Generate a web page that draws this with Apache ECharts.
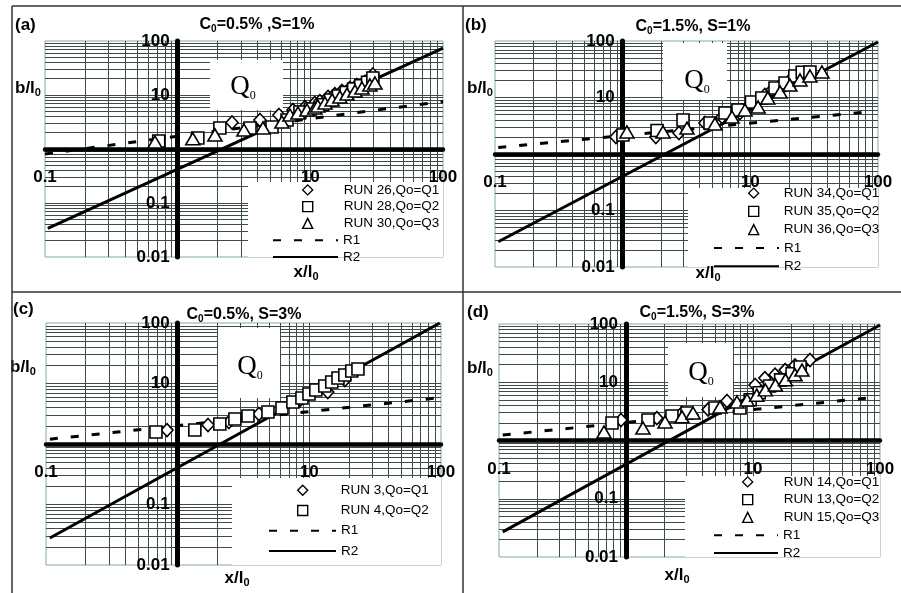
<!DOCTYPE html>
<html><head><meta charset="utf-8">
<script src="https://cdn.jsdelivr.net/npm/echarts@6/dist/echarts.min.js"></script>
<style>html,body{margin:0;padding:0;background:#fff}#c{width:901px;height:593px}</style>
</head><body><div id="c"></div><script>
// ---------- data ----------
const xGridValues = [0.2,0.3,0.4,0.5,0.6,0.7,0.8,0.9,1,2,3,4,5,6,7,8,9,10,20,30,40,50,60,70,80,90];
const yGridValues = [0.02,0.03,0.04,0.05,0.06,0.07,0.08,0.09,0.1,0.2,0.3,0.4,0.5,0.6,0.7,0.8,0.9,1,2,3,4,5,6,7,8,9,10,20,30,40,50,60,70,80,90];
const xTickLabels = [0.1, 10, 100];
const yTickLabels = [0.01, 0.1, 10, 100];

const panelTags = ['(a)', '(b)', '(c)', '(d)'];
const panelTitles = ['C{s|0}=0.5% ,S=1%', 'C{s|0}=1.5%, S=1%', 'C{s|0}=0.5%, S=3%', 'C{s|0}=1.5%, S=3%'];
const runNamesA = ['RUN 26,Qo=Q1', 'RUN 28,Qo=Q2', 'RUN 30,Qo=Q3'];
const runNamesB = ['RUN 34,Qo=Q1', 'RUN 35,Qo=Q2', 'RUN 36,Qo=Q3'];
const runNamesC = ['RUN 3,Qo=Q1', 'RUN 4,Qo=Q2'];
const runNamesD = ['RUN 14,Qo=Q1', 'RUN 13,Qo=Q2', 'RUN 15,Qo=Q3'];

// panel (a)
const a_run26 = [[2.57,3.1],[4.17,3.44],[5.8,4.26],[7.4,5.27],[9.11,6.0],[10.8,7.1],[11.8,7.7],[13.6,9.2],[15.3,10.4],[17.3,11.9],[19.9,13.5],[22.4,15.3],[25.8,17.4],[28.1,20.6],[29.6,24]];
const a_run28 = [[0.72,1.41],[1.42,1.6],[2.08,2.45],[3.51,2.45],[5.14,2.55],[6.67,3.44],[8.35,4.84],[10.0,5.5],[12.4,6.6],[14.2,8.1],[16.3,9.6],[18.6,11.2],[21.2,12.9],[24.0,14.8],[27.0,17.2],[29.6,20.6]];
const a_run30 = [[0.675,1.35],[1.3,1.55],[1.91,1.82],[3.16,2.25],[4.4,2.45],[6.11,3.16],[7.02,4.26],[8.07,4.64],[9.43,5.27],[10.8,5.74],[11.4,6.26],[12.9,7.1],[14.6,8.1],[16.7,9.2],[18.9,10.4],[21.7,11.9],[24.5,13.5],[28.1,15.3],[30.7,16.7]];
const a_R1 = [[0.1,0.81],[1,1.72],[10,3.64],[100,7.6]];
const a_R2 = [[0.105,0.034],[100,74]];
// panel (b)
const b_run34 = [[0.886,2.0],[1.82,2.0],[2.76,2.35],[4.41,3.54],[6.0,4.52],[8.29,5.32],[10.3,8.0],[13.0,11.1],[14.8,13.6],[17.5,16.8],[20.5,20.5],[23.5,24.5],[26.5,27.5]];
const b_run35 = [[1.005,2.17],[1.86,2.6],[2.97,4.0],[4.83,3.54],[6.33,5.32],[8.0,6.0],[10.2,8.33],[12.3,9.8],[15.6,14.7],[18.7,18.1],[22.3,24.0],[25.5,28.0],[29.3,28.3]];
const b_run36 = [[1.08,2.45],[2.07,2.45],[3.19,2.88],[5.28,3.4],[7.18,4.52],[9.08,6.0],[11.5,6.79],[13.7,9.8],[17.1,12.5],[20.4,16.6],[24.5,20.4],[29.3,24.0],[36.4,28.3]];
const b_R1 = [[0.106,1.3],[79,5.5]];
const b_R2 = [[0.106,0.028],[100,96]];
// panel (c)
const c_run3 = [[0.83,1.7],[1.7,2.06],[2.45,2.3],[4.14,3.13],[8.49,5.34],[13.8,7.24],[18.6,11.4]];
const c_run4 = [[0.684,1.58],[1.35,1.7],[2.09,2.14],[2.72,2.59],[3.42,2.9],[4.85,3.38],[6.2,3.94],[7.5,4.94],[8.79,5.76],[9.94,6.7],[11.2,7.81],[13.1,9.09],[14.8,10.6],[16.5,12.3],[18.6,13.8],[21.0,16.1],[23.4,17.4]];
const c_R1 = [[0.107,1.2],[96,5.8]];
const c_R2 = [[0.107,0.028],[98,100]];
// panel (d)
const d_run14 = [[0.914,2.25],[1.75,2.43],[2.76,2.97],[4.43,3.4],[6.24,4.77],[10.4,8.97],[12.4,11.8],[14.9,13.5],[17.9,16.2],[21.4,19.5],[28.1,24.1]];
const d_run13 = [[0.776,2.0],[1.49,2.25],[2.3,2.63],[3.02,2.97],[5.02,3.61],[7.9,3.61],[9.5,5.0],[11.2,6.6],[13.5,8.6],[16.5,11.0],[20.3,14.0],[23.5,18.3]];
const d_run15 = [[0.671,1.4],[1.36,1.64],[2.03,2.08],[2.76,2.55],[3.37,2.97],[5.5,3.76],[7.48,4.58],[8.98,4.96],[10.7,6.0],[12.5,7.4],[15.0,9.0],[18.0,11.0],[21.4,13.5],[24.3,16.2]];
const d_R1 = [[0.107,1.24],[82,5.4]];
const d_R2 = [[0.107,0.027],[100,96]];

const runNames = [runNamesA, runNamesB, runNamesC, runNamesD];
const runData = [[a_run26,a_run28,a_run30],[b_run34,b_run35,b_run36],[c_run3,c_run4],[d_run14,d_run13,d_run15]];
const r1Data = [a_R1, b_R1, c_R1, d_R1];
const r2Data = [a_R2, b_R2, c_R2, d_R2];

// ---------- layout ----------
// leg: [lineStartX, top, lineWidth, rowHeight, symbolCenterX, textX]
const LAYOUT = [
 {grid:[45,41,398,216], tag:[15,25], title:[257,25], ylab:[15,88], xlab:[306,272], qbox:[210,60,73,50], q:[243,87], lbox:[248,182,195,75], leg:[272,181.5,65,16.75,307,343]},
 {grid:[495,41,383,226], tag:[465,25], title:[693,27], ylab:[467,88], xlab:[708,273], qbox:[663,43,64,57], q:[697,81], lbox:[688,188,190,79], leg:[713,184,65,18.25,753,783]},
 {grid:[46,323,395,242], tag:[13,309], title:[244,315], ylab:[10,367], xlab:[237,578], qbox:[218,328,62,70], q:[250,367], lbox:[232,478,209,87], leg:[268,480,67,20.3,302,340]},
 {grid:[499,324,381,233], tag:[467,312], title:[697,313], ylab:[467,368], xlab:[677,575], qbox:[668,343,65,54], q:[701,373], lbox:[685,476,195,81], leg:[713,473,64,17.75,747,783]}
];
const FONT = '"Liberation Sans", Arial, sans-serif';
const SERIF = '"Liberation Serif", "Times New Roman", serif';
const SYMBOLS = ['diamond', 'rect', 'triangle'];
const SIZES = [[12, 13], 12, [14, 12]];
const GRIDC = '#3f4a4a';

const grids = [], xAxes = [], yAxes = [], series = [], legends = [], elems = [];
const subRich = (fs) => ({ s: { fontSize: fs, fontWeight: 'bold', fontFamily: FONT, fill: '#000', lineHeight: fs, verticalAlign: 'bottom' } });

LAYOUT.forEach((P, i) => {
  const [gx, gy, gw, gh] = P.grid;
  grids.push({ left: gx, top: gy, width: gw, height: gh, containLabel: false, outerBoundsMode: 'none',
    show: true, borderColor: '#86a8a8', borderWidth: 1, backgroundColor: 'transparent' });
  xAxes.push({ gridIndex: i, type: 'log', logBase: 10, min: 0.1, max: 100, position: 'bottom', offset: -gh / 2,
    axisLine: { show: true, onZero: false, lineStyle: { color: '#000', width: 4.5 } },
    axisTick: { show: false, customValues: xGridValues },
    splitLine: { show: true, lineStyle: { color: GRIDC, width: 1 } },
    minorTick: { show: false }, minorSplitLine: { show: false },
    axisLabel: { show: true, customValues: xTickLabels, margin: 20, color: '#000', fontSize: 17, fontWeight: 'bold', fontFamily: FONT,
      formatter: v => (v === 1 ? '' : String(+v.toPrecision(6))) } });
  yAxes.push({ gridIndex: i, type: 'log', logBase: 10, min: 0.01, max: 100, position: 'left', offset: -gw / 3,
    axisLine: { show: true, onZero: false, lineStyle: { color: '#000', width: 5 } },
    axisTick: { show: false, customValues: yGridValues },
    splitLine: { show: true, lineStyle: { color: GRIDC, width: 1 } },
    minorTick: { show: false }, minorSplitLine: { show: false },
    axisLabel: { show: true, customValues: yTickLabels, margin: 8, color: '#000', fontSize: 17, fontWeight: 'bold', fontFamily: FONT,
      formatter: v => (v === 1 ? '' : String(+v.toPrecision(6))) } });

  series.push({ name: 'R1', type: 'line', xAxisIndex: i, yAxisIndex: i, data: r1Data[i], symbol: 'none', showSymbol: false,
    lineStyle: { color: '#000', width: 3, type: [8, 13] }, itemStyle: { color: '#000' }, z: 2, silent: true });
  series.push({ name: 'R2', type: 'line', xAxisIndex: i, yAxisIndex: i, data: r2Data[i], symbol: 'none', showSymbol: false,
    lineStyle: { color: '#000', width: 3 }, itemStyle: { color: '#000' }, z: 2, silent: true });
  runData[i].forEach((d, k) => {
    series.push({ name: runNames[i][k], type: 'scatter', xAxisIndex: i, yAxisIndex: i, data: d,
      symbol: SYMBOLS[k], symbolSize: SIZES[k],
      itemStyle: { color: '#fff', borderColor: '#000', borderWidth: 1.6, opacity: 1 }, z: 3, silent: true });
  });

  const [lx, ly, lw, lh, sx, tx] = P.leg;
  const nRuns = runNames[i].length;
  // scatter legend (square icon box)
  legends.push({ data: runNames[i], orient: 'vertical', left: sx - 5, top: ly, padding: 0,
    itemWidth: 10, itemHeight: 10, itemGap: 0, selectedMode: false, z: 6,
    itemStyle: { borderWidth: 1.4 },
    textStyle: { fontSize: 13.5, fontFamily: FONT, color: '#000', lineHeight: lh, padding: [0, 0, 0, tx - (sx + 10)] } });
  // line legend
  legends.push({ data: [{ name: 'R1', itemStyle: { opacity: 0 } }, { name: 'R2', itemStyle: { opacity: 0 } }],
    orient: 'vertical', left: lx, top: ly + nRuns * lh, padding: 0,
    itemWidth: lw, itemHeight: 10, itemGap: 0, selectedMode: false, z: 6,
    textStyle: { fontSize: 13.5, fontFamily: FONT, color: '#000', lineHeight: lh } });

  // white boxes
  const qb = P.qbox, lb = P.lbox;
  elems.push({ type: 'rect', shape: { x: qb[0], y: qb[1], width: qb[2], height: qb[3] }, style: { fill: '#fff' }, z: 1, silent: true });
  elems.push({ type: 'rect', shape: { x: lb[0], y: lb[1], width: lb[2], height: lb[3] }, style: { fill: '#fff' }, z: 1, silent: true });
  // texts
  elems.push({ type: 'text', x: P.q[0], y: P.q[1], z: 10, silent: true, style: { text: '{q|Q}{s|0}', align: 'center', verticalAlign: 'middle',
    rich: { q: { fontSize: 27, fontFamily: SERIF, fill: '#000', lineHeight: 30 }, s: { fontSize: 12, fontFamily: SERIF, fill: '#000', lineHeight: 12, verticalAlign: 'bottom' } } } });
  elems.push({ type: 'text', x: P.tag[0], y: P.tag[1], z: 10, silent: true, style: { text: panelTags[i], fontSize: 17, fontWeight: 'bold', fontFamily: FONT, fill: '#000', align: 'left', verticalAlign: 'middle' } });
  elems.push({ type: 'text', x: P.title[0], y: P.title[1], z: 10, silent: true, style: { text: panelTitles[i], fontSize: 16, fontWeight: 'bold', fontFamily: FONT, fill: '#000', align: 'center', verticalAlign: 'middle', lineHeight: 19, rich: subRich(10) } });
  elems.push({ type: 'text', x: P.ylab[0], y: P.ylab[1], z: 10, silent: true, style: { text: 'b/l{s|0}', fontSize: 17, fontWeight: 'bold', fontFamily: FONT, fill: '#000', align: 'left', verticalAlign: 'middle', lineHeight: 20, rich: subRich(11) } });
  elems.push({ type: 'text', x: P.xlab[0], y: P.xlab[1], z: 10, silent: true, style: { text: 'x/l{s|0}', fontSize: 17, fontWeight: 'bold', fontFamily: FONT, fill: '#000', align: 'center', verticalAlign: 'middle', lineHeight: 20, rich: subRich(11) } });
});

// panel frame lines
[[12,6,901,6],[12,6,12,593],[463,6,463,593],[12,292,901,292]].forEach(l => {
  elems.push({ type: 'line', shape: { x1: l[0], y1: l[1], x2: l[2], y2: l[3] }, style: { stroke: '#333', lineWidth: 1.5 }, z: 10, silent: true });
});

const chart = echarts.init(document.getElementById('c'));
chart.setOption({
  animation: false,
  backgroundColor: '#fff',
  grid: grids, xAxis: xAxes, yAxis: yAxes, series: series, legend: legends,
  graphic: { elements: elems }
});
</script></body></html>
